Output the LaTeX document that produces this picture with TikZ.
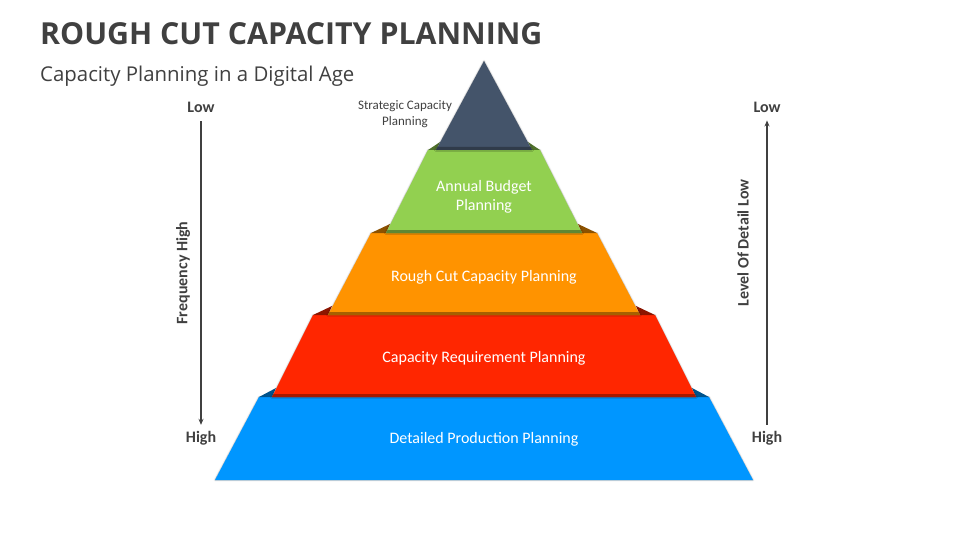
\documentclass[tikz,border=0pt]{standalone}
\usepackage{fontspec}
\setmainfont{Carlito}
\newfontfamily\headfont{Open Sans}
\usetikzlibrary{arrows.meta,shadows.blur}
\definecolor{textgray}{HTML}{404040}
\definecolor{slate}{HTML}{44546A}
\definecolor{leafgreen}{HTML}{92D050}
\definecolor{amber}{HTML}{FF9300}
\definecolor{scarlet}{HTML}{FF2600}
\definecolor{skyblue}{HTML}{0096FF}
\begin{document}
\begin{tikzpicture}[x=1pt,y=-1pt,
  level/.style={blur shadow={shadow xshift=0pt,shadow yshift=0pt,shadow blur radius=1.5pt,shadow opacity=35}},
  layertext/.style={text=white,font=\fontsize{16}{19.5}\selectfont,align=center},
  endlabel/.style={text=textgray,font=\fontsize{16}{18}\selectfont\bfseries,inner sep=0pt},
  sidelabel/.style={text=textgray,font=\fontsize{16}{18}\selectfont\bfseries,rotate=90},
  axis/.style={textgray,line width=1.4pt,-{Stealth[length=6pt,width=5pt]}}]
\useasboundingbox (0,0) rectangle (960,540);
% title
\node[anchor=base west,inner sep=0pt,text=textgray,font=\headfont\fontsize{30.3}{34}\selectfont\bfseries] (title) at (40,45) {ROUGH CUT CAPACITY PLANNING};
\node[anchor=base west,inner sep=0pt,text=textgray,font=\headfont\fontsize{20.4}{24}\selectfont] (subtitle) at (40,82) {Capacity Planning in a Digital Age};
% pyramid, bottom up
\fill[skyblue,level] (259,397) -- (709,397) -- (753,480) -- (215,480) -- cycle;
\fill[skyblue!55!black] (259,397) -- (272,397) -- (276,388) -- cycle;
\fill[skyblue!55!black] (709,397) -- (696,397) -- (692,388) -- cycle;
\fill[scarlet,level] (313,315) -- (655,315) -- (696,397) -- (272,397) -- cycle;
\fill[scarlet!65!black] (273.5,394) -- (694.5,394) -- (696,397) -- (272,397) -- cycle;
\fill[scarlet!55!black] (313,315) -- (328,315) -- (332,306) -- cycle;
\fill[scarlet!55!black] (655,315) -- (640,315) -- (636,306) -- cycle;
\fill[amber,level] (371,233) -- (597,233) -- (640,315) -- (328,315) -- cycle;
\fill[amber!65!black] (329.5,312) -- (638.5,312) -- (640,315) -- (328,315) -- cycle;
\fill[amber!55!black] (371,233) -- (386,233) -- (390,224) -- cycle;
\fill[amber!55!black] (597,233) -- (582,233) -- (578,224) -- cycle;
\fill[leafgreen,level] (428,150) -- (540,150) -- (582,233) -- (386,233) -- cycle;
\fill[leafgreen!65!black] (387.5,230) -- (580.5,230) -- (582,233) -- (386,233) -- cycle;
\fill[leafgreen!55!black] (428,150) -- (436,150) -- (440,142) -- cycle;
\fill[leafgreen!55!black] (540,150) -- (532,150) -- (528,142) -- cycle;
\fill[slate,level] (484,61) -- (532,150) -- (436,150) -- cycle;
\fill[slate!70!black] (437.5,147) -- (530.5,147) -- (532,150) -- (436,150) -- cycle;
% labels
\node[text=textgray,font=\fontsize{13}{16}\selectfont,align=center] (strategic) at (405,114) {Strategic Capacity\\Planning};
\node[layertext] (annual) at (484,197) {Annual Budget\\Planning};
\node[layertext] (roughcut) at (484,277) {Rough Cut Capacity Planning};
\node[layertext] (requirement) at (484,358) {Capacity Requirement Planning};
\node[layertext] (detailed) at (484,439) {Detailed Production Planning};
% frequency axis
\node[endlabel] (lowL) at (201,107) {Low};
\node[endlabel] (highL) at (201,438) {High};
\draw[axis,shorten <=9pt,shorten >=6pt] (lowL) -- (highL);
\node[sidelabel] (freq) at (183,273) {Frequency High};
% detail axis
\node[endlabel] (lowR) at (767,107) {Low};
\node[endlabel] (highR) at (767,438) {High};
\draw[axis,shorten <=6pt,shorten >=8pt] (highR) -- (lowR);
\node[sidelabel] (detail) at (743,243) {Level Of Detail Low};
\end{tikzpicture}
\end{document}
